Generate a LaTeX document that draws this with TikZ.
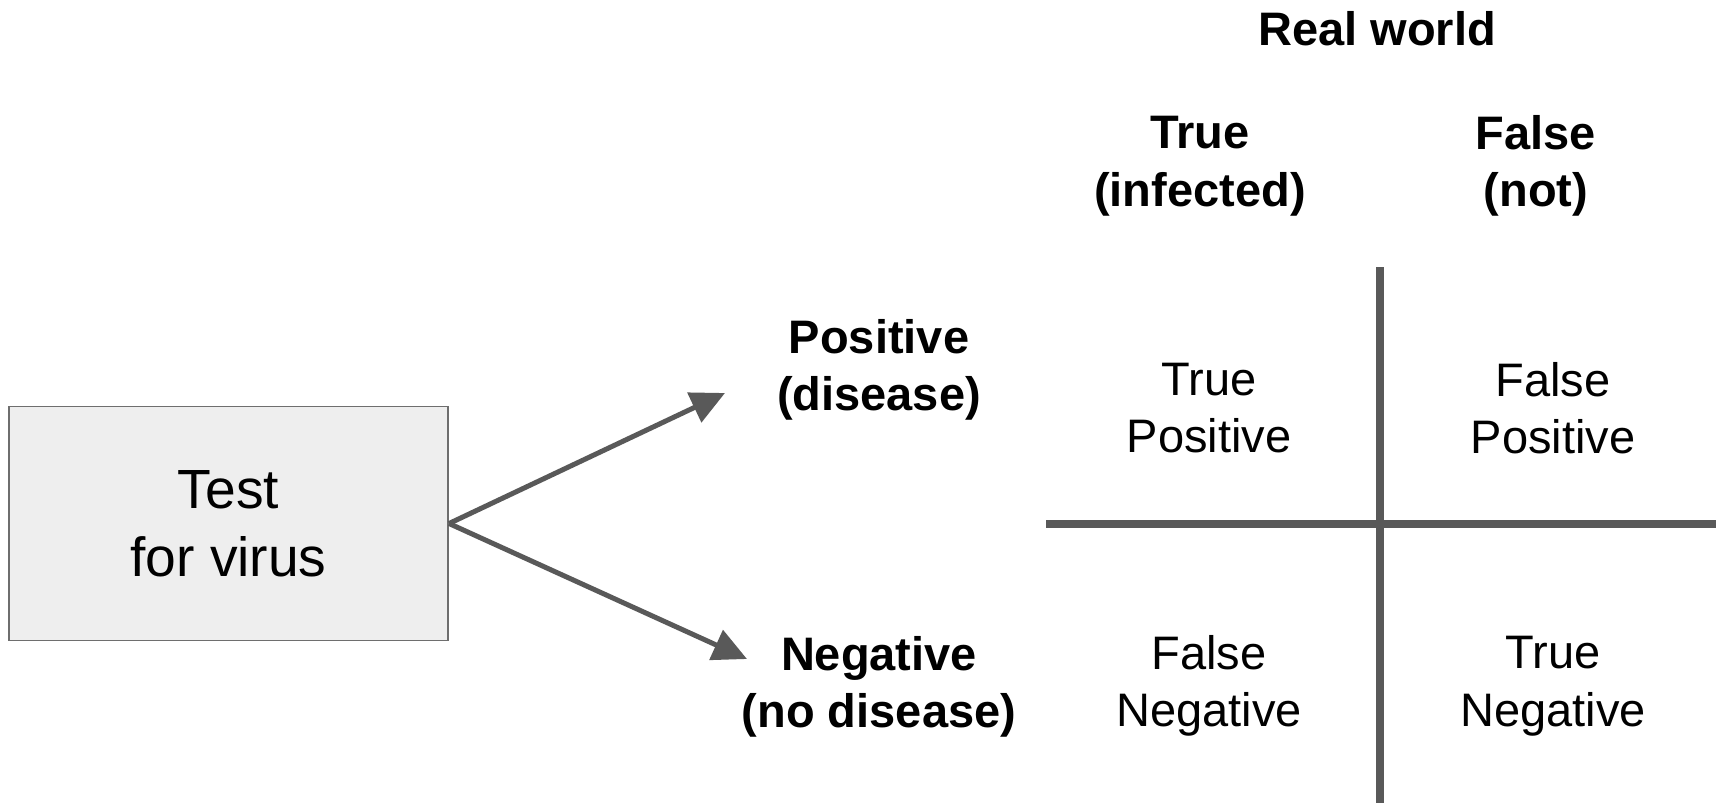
\documentclass[tikz,border=0pt]{standalone}
\usepackage{fontspec}
\setmainfont{Liberation Sans}
\usetikzlibrary{arrows.meta}
\definecolor{linegray}{HTML}{595959}
\definecolor{boxfill}{HTML}{EEEEEE}
\definecolor{boxline}{HTML}{6E6E6E}
\begin{document}
\begin{tikzpicture}[x=0.5pt,y=-0.5pt,
  lbl/.style={align=center,font=\fontsize{23.5pt}{28.75pt}\selectfont\bfseries,inner sep=0pt},
  cell/.style={align=center,font=\fontsize{23.5pt}{28.75pt}\selectfont,inner sep=0pt},
  conn/.style={draw=linegray,line width=2.5pt,-{Triangle[length=17pt,width=16pt]}},
  grid/.style={draw=linegray,line width=3.6pt}]
\useasboundingbox (0,0) rectangle (1723,803);
\node[draw=boxline,fill=boxfill,line width=0.8pt,minimum width=219.75pt,minimum height=117pt,inner sep=0pt,
  align=center,font=\fontsize{27.6pt}{34pt}\selectfont] (test) at (228.5,523.5) {Test\\for virus};
\coordinate (posend) at (725,393);
\coordinate (negend) at (747,659);
\draw[conn] (test.east) -- (posend);
\draw[conn] (test.east) -- (negend);
\node[lbl] (pos) at (879,370) {Positive\\(disease)};
\node[lbl] (neg) at (879,687) {Negative\\(no disease)};
\node[lbl] (real) at (1377,29) {Real world};
\node[lbl] (colT) at (1200,166) {True\\(infected)};
\node[lbl] (colF) at (1536,166) {False\\(not)};
\coordinate (vtop) at (1380,267);
\coordinate (vbot) at (1380,803);
\coordinate (hl) at (1046,524);
\coordinate (hr) at (1716,524);
\draw[grid] (vtop) -- (vbot);
\draw[grid] (hl) -- (hr);
\node[cell] (tp) at (1209,408) {True\\Positive};
\node[cell] (fp) at (1553,408) {False\\Positive};
\node[cell] (fn) at (1209,686) {False\\Negative};
\node[cell] (tn) at (1553,686) {True\\Negative};
\end{tikzpicture}
\end{document}
